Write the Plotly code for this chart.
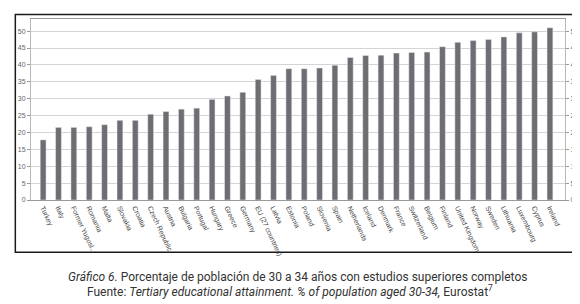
import plotly.graph_objects as go

countries = ["Turkey", "Italy", "Former Yugosl...", "Romania", "Malta", "Slovakia", "Croatia",
             "Czech Republic", "Austria", "Bulgaria", "Portugal", "Hungary", "Greece", "Germany",
             "EU (27 countries)", "Latvia", "Estonia", "Poland", "Slovenia", "Spain", "Netherlands",
             "Iceland", "Denmark", "France", "Switzerland", "Belgium", "Finland", "United Kingdom",
             "Norway", "Sweden", "Lithuania", "Luxembourg", "Cyprus", "Ireland"]
values = [17.8, 21.5, 21.5, 21.7, 22.3, 23.6, 23.6, 25.4, 26.2, 26.9, 27.2, 29.8, 30.8, 31.9,
          35.7, 36.9, 38.9, 38.9, 39.1, 39.9, 42.2, 42.8, 42.9, 43.5, 43.7, 43.8, 45.4, 46.7,
          47.2, 47.5, 48.3, 49.5, 49.8, 51.0]
y_ticks = [0, 5, 10, 15, 20, 25, 30, 35, 40, 45, 50]

caption1 = "<i>Gráfico 6.</i> Porcentaje de población de 30 a 34 años con estudios superiores completos"
caption2 = "Fuente: <i>Tertiary educational attainment. % of population aged 30-34,</i> Eurostat<sup>7</sup>"

W, H = 580, 304
L, R, T, B = 17, 18, 10, 112
pw, ph = W - L - R, H - T - B

def px(x):
    return (x - L) / pw

def py(y):
    return (H - B - y) / ph

fig = go.Figure()
fig.add_trace(go.Bar(x=countries, y=values, marker=dict(color="#6e6e72", line=dict(width=0)),
                     width=0.38, hoverinfo="x+y", showlegend=False))
fig.add_trace(go.Bar(x=countries, y=values, yaxis="y2", marker=dict(color="rgba(0,0,0,0)"),
                     width=0.38, hoverinfo="skip", showlegend=False))

tickfont = dict(family="Liberation Sans, Arial, sans-serif", size=7, color="#666666")
yax = dict(range=[0, 53.6], tickvals=y_ticks, ticks="outside", ticklen=3, tickcolor="#999999",
           showgrid=True, gridcolor="#d4d4d4", gridwidth=1, zeroline=False,
           showline=True, linecolor="#b8b8b8", linewidth=1, tickfont=tickfont, fixedrange=True)

capfont = dict(family="Roboto, Liberation Sans Narrow, sans-serif", size=12, color="#333333")

fig.update_layout(
    width=W, height=H,
    margin=dict(l=L, r=R, t=T, b=B, pad=0),
    paper_bgcolor="white", plot_bgcolor="white",
    barmode="overlay",
    xaxis=dict(type="category", range=[-0.79, 33.98], tickangle=65, showgrid=False,
               showline=True, linecolor="#9a9a9a", linewidth=1, mirror=True,
               ticks="", tickfont=dict(family="Liberation Sans, Arial, sans-serif", size=7, color="#444444")),
    yaxis=yax,
    yaxis2=dict(yax, overlaying="y", side="right", showgrid=False),
    shapes=[dict(type="rect", xref="paper", yref="paper",
                 x0=px(1), x1=px(575), y0=py(244.5), y1=py(5.5),
                 line=dict(color="#1a1a1a", width=1.5), fillcolor="rgba(0,0,0,0)", layer="below")],
    annotations=[
        dict(text=caption1, xref="paper", yref="paper", x=px(289), y=py(269), xanchor="center",
             yanchor="middle", showarrow=False, font=capfont),
        dict(text=caption2, xref="paper", yref="paper", x=px(281), y=py(284), xanchor="center",
             yanchor="middle", showarrow=False, font=capfont),
    ],
)

fig.write_html("out.html")
